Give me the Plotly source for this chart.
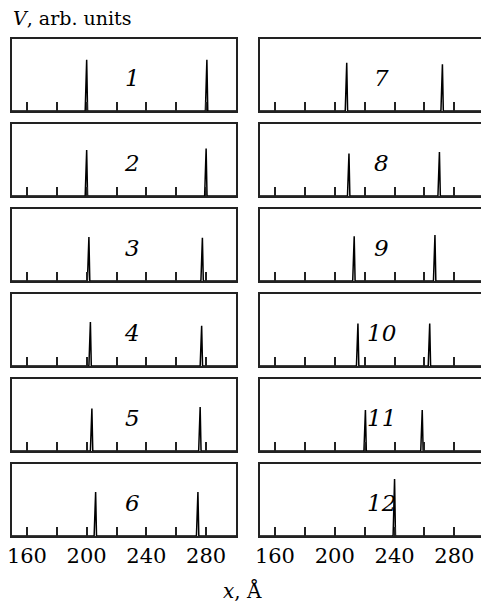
import plotly.graph_objects as go

# Peak positions (x, Angstrom) and heights (arb. units) for each of the 12 states
panel_labels = ["1", "2", "3", "4", "5", "6", "7", "8", "9", "10", "11", "12"]
left_peak_x = [200.0, 200.0, 201.5, 202.5, 203.5, 206.0, 208.0, 209.5, 213.0, 215.5, 220.5, 240.0]
right_peak_x = [280.5, 280.0, 277.5, 277.0, 276.0, 274.5, 272.0, 270.0, 267.0, 263.5, 258.5, None]
left_peak_h = [0.71, 0.64, 0.61, 0.61, 0.59, 0.61, 0.67, 0.59, 0.62, 0.59, 0.57, 0.79]
right_peak_h = [0.71, 0.66, 0.60, 0.56, 0.61, 0.61, 0.65, 0.61, 0.64, 0.59, 0.57, None]

tick_vals = [160, 180, 200, 220, 240, 260, 280]
tick_text = ["160", "", "200", "", "240", "", "280"]

W, H = 481, 607
SERIF = "DejaVu Serif"
HALF_W = 1.0  # half-width of a peak base, in x units
X_LO, X_HI = 150, 300

fig = go.Figure()

col_px = [(12, 236, X_HI), (260, 481, 297.8)]
row_top0, row_step, row_h = 39, 85, 72

for i, lab in enumerate(panel_labels):
    col = 0 if i < 6 else 1
    row = i % 6
    n = i + 1
    xa = "x" if n == 1 else f"x{n}"
    ya = "y" if n == 1 else f"y{n}"

    xs = [X_LO]
    ys = [0.0]
    peaks = [(left_peak_x[i], left_peak_h[i]), (right_peak_x[i], right_peak_h[i])]
    for px_, ph in peaks:
        if px_ is None:
            continue
        xs += [px_ - HALF_W, px_, px_ + HALF_W * 0.6]
        ys += [0.0, ph, 0.0]
    xs.append(X_HI)
    ys.append(0.0)
    fig.add_trace(go.Scatter(x=xs, y=ys, mode="lines", xaxis=xa, yaxis=ya,
                             line=dict(color="black", width=1.5), showlegend=False,
                             hoverinfo="skip"))

    x0, x1, xmax = col_px[col]
    top = row_top0 + row * row_step
    bot = top + row_h
    xdom = [x0 / W, x1 / W]
    ydom = [1 - bot / H, 1 - top / H]
    bottom_row = row == 5

    fig.layout[("xaxis" if n == 1 else f"xaxis{n}")] = dict(
        domain=xdom, anchor=ya, range=[X_LO, xmax], showgrid=False, zeroline=False,
        showline=True, mirror=True, linecolor="#222", linewidth=1.5,
        ticks="inside", ticklen=9, tickwidth=1.5, tickcolor="#222",
        tickvals=tick_vals, ticktext=tick_text, showticklabels=bottom_row,
        tickfont=dict(family=SERIF, size=21, color="black"), automargin=False,
    )
    fig.layout[("yaxis" if n == 1 else f"yaxis{n}")] = dict(
        domain=ydom, anchor=xa, range=[0, 1], showgrid=False, zeroline=False,
        showline=True, mirror=(col == 0), linecolor="#222", linewidth=1.5,
        showticklabels=False, ticks="", automargin=False,
    )

    num_x = (132 - x0) / (x1 - x0) if col == 0 else (381 - x0) / (x1 - x0)
    fig.add_annotation(text=f"<i>{lab}</i>", xref=f"{xa} domain", yref=f"{ya} domain",
                       x=num_x, y=1 - 24 / row_h, showarrow=False,
                       font=dict(family=SERIF, size=23, color="black"))

fig.add_annotation(text="<i>V</i>, arb. units", xref="paper", yref="paper",
                   x=11 / W, y=1 - 18 / H, xanchor="left", yanchor="middle",
                   showarrow=False, font=dict(family=SERIF, size=19, color="black"))
fig.add_annotation(text="<i>x</i>, Å", xref="paper", yref="paper",
                   x=242 / W, y=1 - 590 / H, xanchor="center", yanchor="middle",
                   showarrow=False, font=dict(family=SERIF, size=20, color="black"))

fig.update_layout(template="none", width=W, height=H,
                  margin=dict(l=0, r=0, t=0, b=0, pad=0),
                  paper_bgcolor="white", plot_bgcolor="white",
                  font=dict(family=SERIF, color="black"))

fig.write_html("out.html")
